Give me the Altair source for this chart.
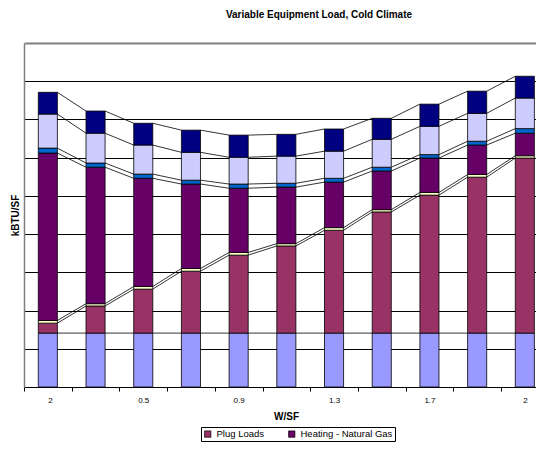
import json
import altair as alt
import pandas as pd

# ---- data ----
tick_labels = ["2", "0.5", "0.9", "1.3", "1.7", "2"]   # shown under every second bar
series_names = ["Lighting", "Plug Loads", "Pumps", "Heating - Natural Gas",
                "Fans", "Cooling", "Water Heating"]
series_colors = ["#9999FF", "#993366", "#FFFFCC", "#660066",
                 "#0066CC", "#CCCCFF", "#000080"]

lighting = [14.1, 14.1, 14.1, 14.1, 14.1, 14.1, 14.1, 14.1, 14.1, 14.1, 14.1]
plug     = [2.6, 7.1, 11.5, 16.2, 20.4, 22.8, 26.9, 31.7, 36.1, 40.8, 45.8]
pumps    = [0.7, 0.6, 0.7, 0.7, 0.7, 0.6, 0.7, 0.6, 0.7, 0.7, 0.6]
heating  = [43.8, 35.7, 28.3, 22.1, 16.8, 14.8, 11.9, 10.1, 9.0, 7.7, 5.9]
fans     = [1.3, 1.1, 1.1, 1.0, 1.1, 1.0, 1.0, 1.0, 0.9, 1.0, 1.2]
cooling  = [8.9, 7.8, 7.6, 7.3, 7.0, 7.1, 7.1, 7.3, 7.4, 7.3, 8.0]
water    = [5.7, 5.8, 5.7, 5.8, 5.8, 5.7, 5.8, 5.5, 5.8, 5.8, 5.7]

series_values = [lighting, plug, pumps, heating, fans, cooling, water]
n = len(lighting)
half = 0.2  # half bar width in category units

# stacked segments
bar_rows = []
tops = []
for i in range(n):
    base = 0.0
    col_tops = []
    for name, vals in zip(series_names, series_values):
        top = base + vals[i]
        bar_rows.append({"series": name, "x0": i - half, "x1": i + half,
                         "y0": base, "y1": top})
        col_tops.append(top)
        base = top
    tops.append(col_tops)
bars_df = pd.DataFrame(bar_rows)

# series lines joining the tops of each segment between neighbouring bars
line_rows = []
for s in range(len(series_names)):
    for i in range(n - 1):
        line_rows.append({"x": i + half, "x2": i + 1 - half,
                          "y": tops[i][s], "y2": tops[i + 1][s]})
lines_df = pd.DataFrame(line_rows)

PLOT_W = 512
STEP = 47.7
xscale = alt.Scale(domain=[-0.5, -0.5 + PLOT_W / STEP], nice=False, zero=False)
yscale = alt.Scale(domain=[0, 90], nice=False)

label_expr = ("((datum.value + 0.5) % 2 == 0) ? " + json.dumps(tick_labels) +
              "[(datum.value + 0.5) / 2] : ''")

xaxis = alt.Axis(values=[i - 0.5 for i in range(n)], labelExpr=label_expr,
                 labelOffset=STEP / 2, labelOverlap=False, tickSize=4,
                 tickColor="black", domainColor="black", labelFontSize=8,
                 labelPadding=5, grid=False, title="W/SF", titleFontSize=10,
                 titleFontWeight="bold", titlePadding=7, labelColor="black",
                 titleColor="black", titleX=262)
yaxis = alt.Axis(values=[10, 20, 30, 40, 50, 60, 70, 80, 90], labels=False,
                 ticks=False, domain=True, domainColor="#808080", domainWidth=1.5,
                 grid=True,
                 gridColor={"condition": {"test": "datum.value == 90", "value": "#808080"},
                            "value": "black"},
                 gridWidth={"condition": {"test": "datum.value == 90", "value": 2},
                            "value": 1},
                 title="kBTU/SF", titleFontSize=10,
                 titleFontWeight="bold", titleX=-9, titleY=172,
                 titleAlign="center", titleBaseline="middle", titleColor="black")

rules = alt.Chart(lines_df).mark_rule(color="black", strokeWidth=0.8).encode(
    x=alt.X("x:Q", scale=xscale, axis=xaxis),
    x2="x2:Q",
    y=alt.Y("y:Q", scale=yscale, axis=yaxis),
    y2="y2:Q",
)

bars = alt.Chart(bars_df).mark_rect(stroke="black", strokeWidth=0.8).encode(
    x=alt.X("x0:Q", scale=xscale, axis=xaxis),
    x2="x1:Q",
    y=alt.Y("y0:Q", scale=yscale, axis=yaxis),
    y2="y1:Q",
    color=alt.Color("series:N",
                    scale=alt.Scale(domain=series_names, range=series_colors),
                    legend=alt.Legend(values=["Plug Loads", "Heating - Natural Gas"],
                                      title=None, orient="none", direction="horizontal",
                                      legendX=177, legendY=384, padding=2,
                                      strokeColor="black", fillColor="white",
                                      symbolType="square", symbolSize=40,
                                      symbolStrokeColor="black", symbolStrokeWidth=0.7,
                                      labelFontSize=9.5, labelOffset=4,
                                      columnPadding=22, labelColor="black")),
)

chart = alt.layer(rules, bars).properties(
    width=PLOT_W,
    height=344,
    autosize=alt.AutoSizeParams(type="none"),
    padding={"left": 16, "top": 35, "right": 0, "bottom": 56},
    title=alt.TitleParams("Variable Equipment Load, Cold Climate", fontSize=10,
                          fontWeight="bold", anchor="middle", dx=39, offset=13,
                          baseline="bottom", color="black"),
).configure(font="Liberation Sans").configure_view(stroke=None)

chart.save("out.html", embed_options={"renderer": "svg", "actions": False})
